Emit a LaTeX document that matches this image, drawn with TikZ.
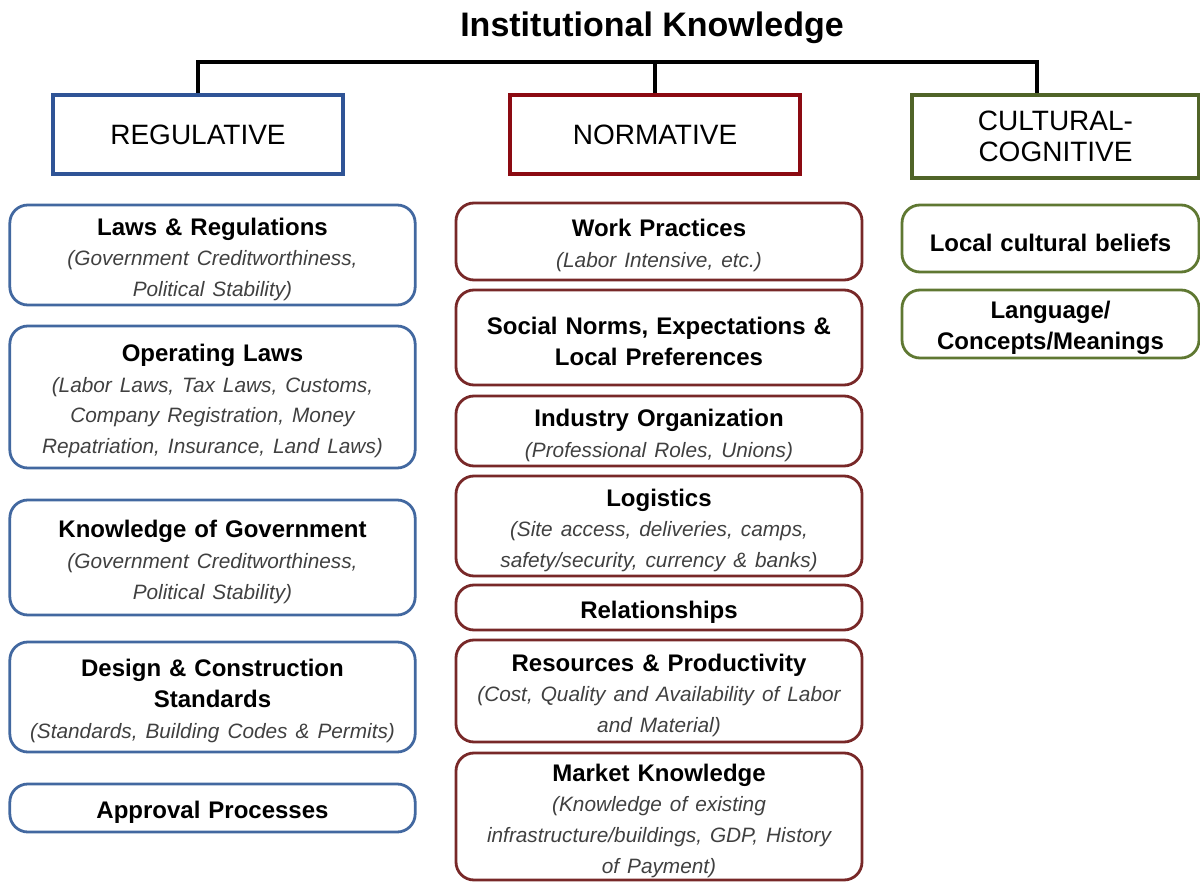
\documentclass[tikz,border=0pt]{standalone}
\usepackage{fontspec}
\setmainfont{Liberation Sans}
\usepackage{tikz}
\definecolor{regblue}{RGB}{47,84,150}
\definecolor{regblueL}{RGB}{66,104,160}
\definecolor{normred}{RGB}{140,10,18}
\definecolor{normredL}{RGB}{120,40,40}
\definecolor{cultgreen}{RGB}{80,100,40}
\definecolor{cultgreenL}{RGB}{95,120,50}
\definecolor{subgray}{RGB}{64,64,64}
\newcommand{\subln}[1]{{\normalfont\itshape\fontsize{10.4}{15.2}\selectfont\color{subgray}#1}}
\tikzset{
  catbox/.style={draw, line width=2pt, minimum width=145pt, minimum height=39.5pt, align=center, font=\fontsize{14}{15.5}\selectfont},
  itembox/.style={draw, rounded corners=9pt, line width=1.4pt, inner ysep=1pt, align=center, font=\fontsize{12}{15.5}\selectfont\bfseries, execute at begin node={\rule{0pt}{13pt}}},
  regitem/.style={itembox, draw=regblueL, text width=196pt, minimum width=202.5pt},
  normitem/.style={itembox, draw=normredL, text width=196pt, minimum width=203pt},
  cultitem/.style={itembox, draw=cultgreenL, text width=140pt, minimum width=148.5pt},
  link/.style={line width=2pt}
}
\begin{document}
\begin{tikzpicture}[x=0.5pt,y=-0.5pt]
\useasboundingbox (0,0) rectangle (1200,882);
\node[font=\fontsize{17}{20}\selectfont\bfseries] (title) at (652,28) {Institutional Knowledge};

\node[catbox, draw=regblue] (reg) at (198,134.5) {REGULATIVE};
\node[catbox, draw=normred] (norm) at (655,134.5) {NORMATIVE};
\node[catbox, draw=cultgreen, minimum width=143.5pt, minimum height=41.5pt] (cult) at (1055.5,136.5) {CULTURAL-\\COGNITIVE};

\coordinate (joinL) at (197,62);
\coordinate (joinR) at (1037,62);
\draw[link] (reg.north) -- (reg.north |- joinL) -- (joinR) -- (joinR |- cult.north);
\draw[link] (norm.north) -- (norm.north |- joinL);

\node[regitem, minimum height=50pt] (laws) at (212.5,255) {Laws \& Regulations\\ \subln{(Government Creditworthiness,\\ Political Stability)}};
\node[regitem, minimum height=71pt] (oplaws) at (212.5,397) {Operating Laws\\ \subln{(Labor Laws, Tax Laws, Customs,\\ Company Registration, Money\\ Repatriation, Insurance, Land Laws)}};
\node[regitem, minimum height=57.5pt] (govt) at (212.5,557.5) {Knowledge of Government\\ \subln{(Government Creditworthiness,\\ Political Stability)}};
\node[regitem, minimum height=55pt] (design) at (212.5,697) {Design \& Construction\\ Standards\\ \subln{(Standards, Building Codes \& Permits)}};
\node[regitem, minimum height=24pt] (approval) at (212.5,808) {Approval Processes};

\node[normitem, minimum height=38.5pt] (work) at (659,241.5) {Work Practices\\ \subln{(Labor Intensive, etc.)}};
\node[normitem, minimum height=47.5pt] (social) at (659,337.5) {Social Norms, Expectations \&\\ Local Preferences};
\node[normitem, minimum height=35pt] (industry) at (659,431) {Industry Organization\\ \subln{(Professional Roles, Unions)}};
\node[normitem, minimum height=50pt] (logistics) at (659,526) {Logistics\\ \subln{(Site access, deliveries, camps,\\ safety/security, currency \& banks)}};
\node[normitem, minimum height=22.5pt] (relations) at (659,607.5) {Relationships};
\node[normitem, minimum height=51pt] (resources) at (659,691) {Resources \& Productivity\\ \subln{(Cost, Quality and Availability of Labor\\ and Material)}};
\node[normitem, minimum height=63.5pt] (market) at (659,816.5) {Market Knowledge\\ \subln{(Knowledge of existing\\ infrastructure/buildings, GDP, History\\ of Payment)}};

\node[cultitem, minimum height=33.5pt] (beliefs) at (1050.5,238.5) {Local cultural beliefs};
\node[cultitem, minimum height=34pt] (language) at (1050.5,324) {Language/\\ Concepts/Meanings};
\end{tikzpicture}
\end{document}
